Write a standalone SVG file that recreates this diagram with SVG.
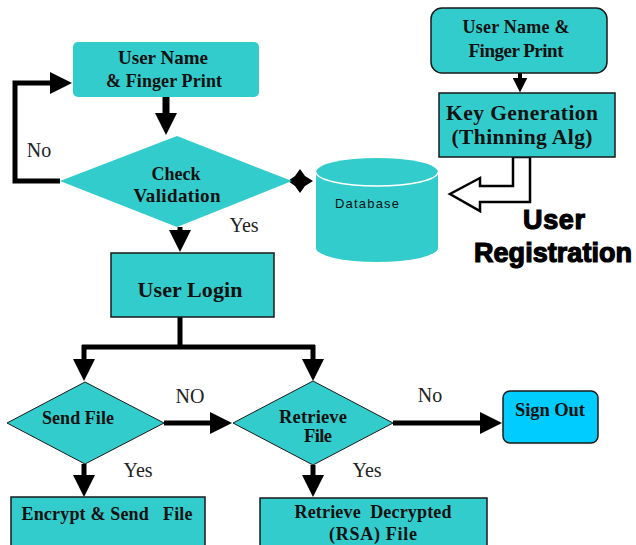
<svg xmlns="http://www.w3.org/2000/svg" width="636" height="545" viewBox="0 0 636 545">
<style>
.t{font-family:"Liberation Serif","Times New Roman",serif;font-weight:bold;fill:#111;text-anchor:middle}
.l{font-family:"Liberation Serif","Times New Roman",serif;font-size:20px;fill:#222;text-anchor:middle}
.box{fill:#33CCCC;stroke:#1a1a1a;stroke-width:1.5}
.c{fill:none;stroke:#000;stroke-width:5;stroke-linejoin:miter}
</style>
<defs>
<marker id="ah" markerUnits="userSpaceOnUse" markerWidth="22" markerHeight="22" viewBox="0 0 20 20" refX="10" refY="10" orient="auto">
<path d="M0,0 L20,10 L0,20 z" fill="#000"/>
</marker>
<marker id="ahs" markerUnits="userSpaceOnUse" markerWidth="15" markerHeight="15" viewBox="0 0 20 20" refX="10" refY="10" orient="auto">
<path d="M0,0 L20,10 L0,20 z" fill="#000"/>
</marker>
</defs>
<rect width="636" height="545" fill="#fff"/>

<g id="connectors">
<path class="c" style="stroke-width:7" d="M166,97 L166,124" marker-end="url(#ah)"/>
<path class="c" d="M60,181 L15,181 L15,83 L61,83" marker-end="url(#ah)"/>
<path class="c" d="M180,227 L180,241" marker-end="url(#ah)"/>
<path class="c" d="M180,317 L180,347 M82,347 L315,347"/>
<path class="c" d="M84,345 L84,370" marker-end="url(#ah)"/>
<path class="c" d="M313,345 L313,370" marker-end="url(#ah)"/>
<path class="c" d="M164,423 L221,423" marker-end="url(#ah)"/>
<path class="c" d="M393,423 L491,423" marker-end="url(#ah)"/>
<path class="c" d="M84,464 L84,486" marker-end="url(#ah)"/>
<path class="c" d="M313,465 L313,486" marker-end="url(#ah)"/>
<path class="c" style="stroke-width:4" d="M520,73 L520,85" marker-end="url(#ahs)"/>
<polygon points="288,181 295,176 300,169 305,176 313,181 305,186 300,193 295,186" fill="#000"/>
<polygon points="513,157 513,186 480,186 480,178 450,194 480,211 480,202 530,202 530,157" fill="#fff" stroke="#000" stroke-width="2.5" stroke-linejoin="miter"/>
</g>

<g id="userName1">
<rect x="73" y="42" width="186" height="55" rx="5" fill="#33CCCC"/>
<text class="t" x="163" y="64" font-size="19" textLength="90">User Name</text>
<text class="t" x="164" y="87" font-size="18" textLength="116">&amp; Finger Print</text>
</g>

<g id="checkValidation">
<polygon points="60,181 177,136 292,181 177,227" fill="#33CCCC"/>
<text class="t" x="176" y="180" font-size="18" textLength="49">Check</text>
<text class="t" x="177" y="202" font-size="19" textLength="87">Validation</text>
</g>

<g id="database">
<path d="M316,172 L316,248 A61,14 0 0 0 438,248 L438,172 A61,14 0 0 0 316,172 Z" fill="#33CCCC"/>
<path d="M316,172 A61,14 0 0 0 438,172" fill="none" stroke="#fff" stroke-width="1.5"/>
<text x="335" y="208" font-family="Liberation Sans, Arial, sans-serif" font-size="13" fill="#111" textLength="64">Database</text>
</g>

<g id="userName2">
<rect x="431" y="8" width="176" height="65" rx="11" class="box"/>
<text class="t" x="516" y="33" font-size="18" textLength="107">User Name &amp;</text>
<text class="t" x="516" y="57" font-size="19" textLength="95">Finger Print</text>
</g>

<g id="keyGeneration">
<rect x="439" y="93" width="176" height="64" class="box"/>
<text class="t" x="522" y="120" font-size="21.5" textLength="152">Key Generation</text>
<text class="t" x="522" y="144" font-size="21.5" textLength="141">(Thinning Alg)</text>
</g>

<g id="userRegistration">
<text x="523" y="229" font-family="Liberation Sans, Arial, sans-serif" font-weight="bold" font-size="27" fill="#000" stroke="#000" stroke-width="1.2" textLength="62">User</text>
<text x="474" y="262" font-family="Liberation Sans, Arial, sans-serif" font-weight="bold" font-size="27" fill="#000" stroke="#000" stroke-width="1.2" textLength="158">Registration</text>
</g>

<g id="userLogin">
<rect x="111" y="253" width="163" height="64" class="box"/>
<text class="t" x="190" y="297" font-size="22" textLength="105">User Login</text>
</g>

<g id="sendFile">
<polygon points="7,423 85,382 164,423 85,464" class="box" style="stroke-width:1"/>
<text class="t" x="78" y="424" font-size="18" textLength="72">Send File</text>
</g>

<g id="retrieveFile">
<polygon points="233,423 313,381 393,423 313,465" class="box" style="stroke-width:1"/>
<text class="t" x="313" y="423" font-size="18.5" textLength="68">Retrieve</text>
<text class="t" x="318" y="442" font-size="18.5" textLength="28">File</text>
</g>

<g id="signOut">
<rect x="503" y="391" width="95" height="52" rx="7" fill="#00CCFF" stroke="#1a1a1a" stroke-width="1.5"/>
<text class="t" x="550" y="416" font-size="18.5" textLength="70">Sign Out</text>
</g>

<g id="encryptSend">
<rect x="11" y="497" width="194" height="60" class="box"/>
<text class="t" x="107" y="520" font-size="18" textLength="171" xml:space="preserve">Encrypt &amp; Send   File</text>
</g>

<g id="retrieveDecrypted">
<rect x="260" y="498" width="227" height="60" class="box"/>
<text class="t" x="373" y="518" font-size="18" textLength="157" xml:space="preserve">Retrieve  Decrypted</text>
<text class="t" x="373" y="540" font-size="18" textLength="88">(RSA) File</text>
</g>

<g id="labels">
<text class="l" x="39" y="157">No</text>
<text class="l" x="244" y="232">Yes</text>
<text class="l" x="190" y="403">NO</text>
<text class="l" x="138" y="477">Yes</text>
<text class="l" x="430" y="402">No</text>
<text class="l" x="367" y="477">Yes</text>
</g>
</svg>
